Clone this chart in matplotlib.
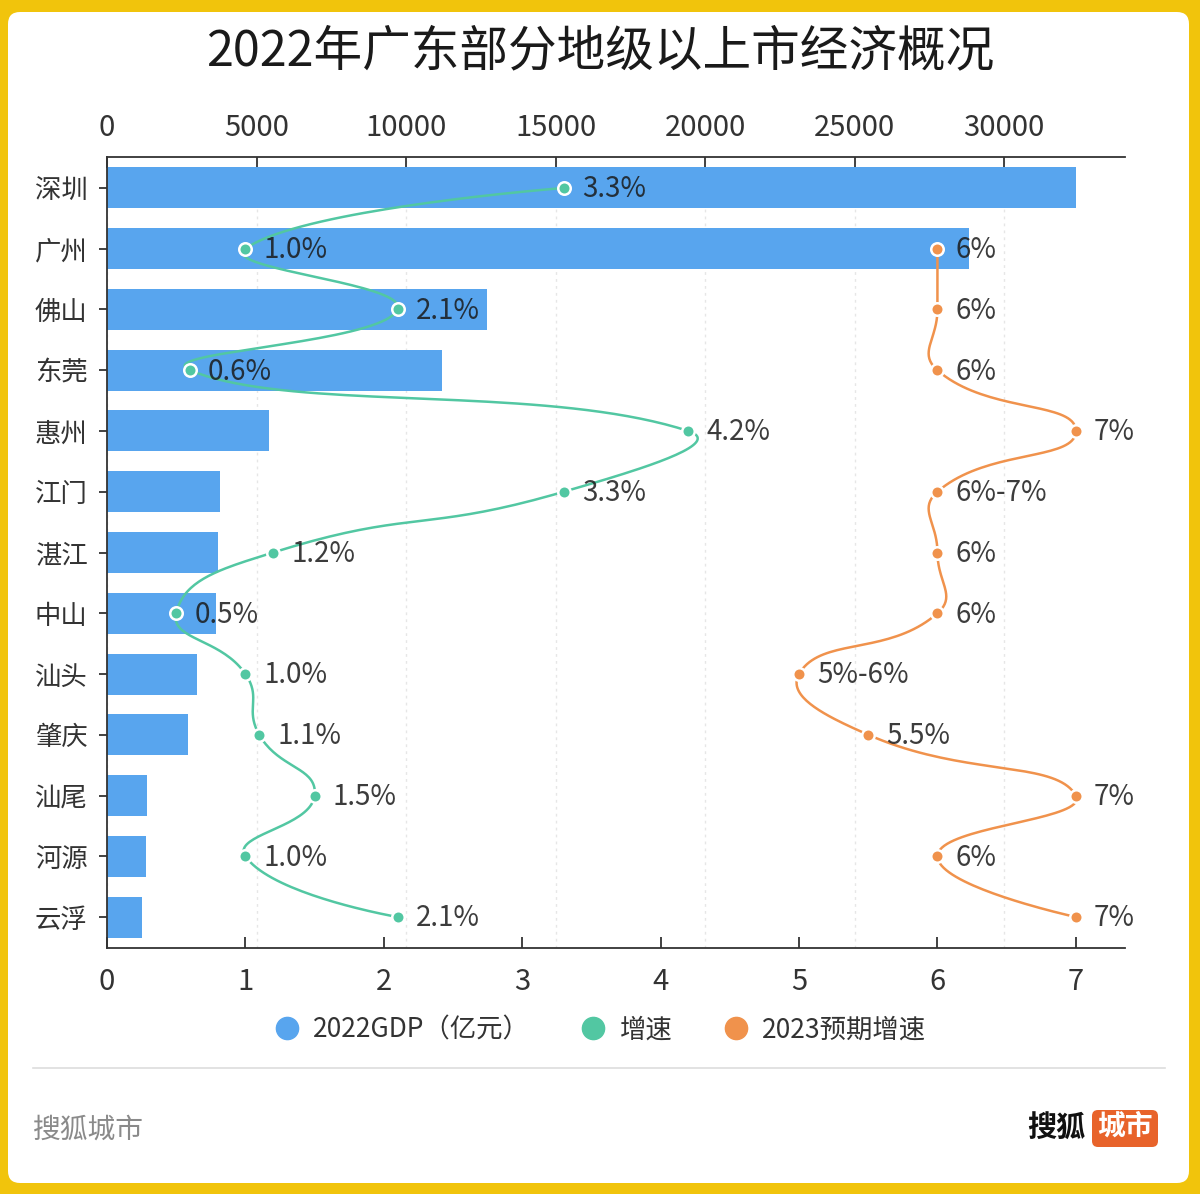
import numpy as np
import matplotlib
matplotlib.use("Agg")
import matplotlib.pyplot as plt
from matplotlib.lines import Line2D
from matplotlib.patches import FancyBboxPatch

plt.rcParams['font.family'] = ['Noto Sans CJK SC', 'DejaVu Sans']

cities = ['深圳', '广州', '佛山', '东莞', '惠州', '江门', '湛江',
          '中山', '汕头', '肇庆', '汕尾', '河源', '云浮']
gdp = [32387.68, 28839.0, 12698.4, 11200.3, 5401.2, 3773.4, 3712.6,
       3631.3, 3017.4, 2705.1, 1322.0, 1294.0, 1162.0]
growth = [3.3, 1.0, 2.1, 0.6, 4.2, 3.3, 1.2, 0.5, 1.0, 1.1, 1.5, 1.0, 2.1]
growth_labels = ['3.3%', '1.0%', '2.1%', '0.6%', '4.2%', '3.3%', '1.2%',
                 '0.5%', '1.0%', '1.1%', '1.5%', '1.0%', '2.1%']
# 2023 expected growth (深圳 has none)
expect = [None, 6, 6, 6, 7, 6, 6, 6, 5, 5.5, 7, 6, 7]
expect_labels = [None, '6%', '6%', '6%', '7%', '6%-7%', '6%', '6%',
                 '5%-6%', '5.5%', '7%', '6%', '7%']
gdp_ticks = [0, 5000, 10000, 15000, 20000, 25000, 30000]
rate_ticks = [0, 1, 2, 3, 4, 5, 6, 7]

BLUE = '#58a5ee'
GREEN = '#52c7a2'
ORANGE = '#f0924c'
YELLOW = '#f1c40c'
TXT = '#333333'


def smooth_curve(ax, xs, ys, smooth=0.5, n=40):
    """bezier smoothing in screen space, like echarts smooth lines"""
    pts = ax.transData.transform(np.column_stack([xs, ys]))
    cps = []
    for i in range(len(pts)):
        p = pts[i]
        if i == 0 or i == len(pts) - 1:
            cps.append((p, p))
            continue
        prev, nxt = pts[i - 1], pts[i + 1]
        v = (nxt - prev) * smooth
        d0 = np.hypot(*(p - prev))
        d1 = np.hypot(*(nxt - p))
        cps.append((p - v * d0 / (d0 + d1), p + v * d1 / (d0 + d1)))
    out = [pts[0]]
    t = np.linspace(0, 1, n)[1:, None]
    for i in range(len(pts) - 1):
        p0, c0, c1, p1 = pts[i], cps[i][1], cps[i + 1][0], pts[i + 1]
        seg = (1 - t) ** 3 * p0 + 3 * (1 - t) ** 2 * t * c0 + 3 * (1 - t) * t ** 2 * c1 + t ** 3 * p1
        out.extend(seg)
    return ax.transData.inverted().transform(np.array(out))


fig = plt.figure(figsize=(12, 11.94), dpi=100)
fig.patch.set_facecolor(YELLOW)
card = FancyBboxPatch((0.08, 0.11), 11.81, 11.71, boxstyle='round,pad=0,rounding_size=0.12',
                      transform=fig.dpi_scale_trans, facecolor='white', edgecolor='none', zorder=-1)
fig.add_artist(card)

fig.text(0.5, 1 - 52 / 1194, '2022年广东部分地级以上市经济概况', ha='center', va='center',
         fontsize=35, color='#1a1a1a')

ax = fig.add_axes([107 / 1200, 1 - 948 / 1194, 1018 / 1200, 791 / 1194])
ax.set_facecolor('none')
y = np.arange(len(cities))
ax.barh(y, gdp, height=0.675, color=BLUE, zorder=2)
ax.set_xlim(0, 34040)
ax.set_ylim(len(cities) - 0.49, -0.51)
ax.set_yticks(y)
ax.set_yticklabels(cities, fontsize=19, color=TXT)
ax.grid(axis='x', color='#e6e6e6', linestyle=(0, (2, 3)), linewidth=1, zorder=0)

ax2 = ax.twiny()
# twiny moves the original ticks to the bottom, so put them back on top
ax.xaxis.set_ticks_position('top')
ax.xaxis.set_label_position('top')
ax.set_xticks(gdp_ticks)
ax.set_xticklabels([str(v) for v in gdp_ticks], fontsize=21, color=TXT)
ax.tick_params(axis='x', direction='in', length=8, width=1.3, color=TXT, pad=10)
ax.tick_params(axis='y', direction='out', length=6, width=1.3, color=TXT, pad=8)
for s in ['right', 'bottom']:
    ax.spines[s].set_visible(False)
for s in ['top', 'left']:
    ax.spines[s].set_color(TXT)
    ax.spines[s].set_linewidth(1.3)

ax2.set_facecolor('none')
ax2.set_xlim(0, 7.355)
ax2.xaxis.set_ticks_position('bottom')
ax2.xaxis.set_label_position('bottom')
ax2.set_xticks(rate_ticks)
ax2.set_xticklabels([str(v) for v in rate_ticks], fontsize=21, color=TXT)
ax2.tick_params(axis='x', direction='in', length=8, width=1.3, color=TXT, pad=14)
for s in ['top', 'left', 'right']:
    ax2.spines[s].set_visible(False)
ax2.spines['bottom'].set_color(TXT)
ax2.spines['bottom'].set_linewidth(1.3)

# growth line
curve = smooth_curve(ax2, growth, y)
ax2.plot(curve[:, 0], curve[:, 1], color=GREEN, lw=1.8, zorder=3)
ax2.plot(growth, y, 'o', ms=9, mfc=GREEN, mec='white', mew=1.8, zorder=4)
for gx, gy, lbl in zip(growth, y, growth_labels):
    ax2.annotate(lbl, (gx, gy), xytext=(13, -1), textcoords='offset points',
                 ha='left', va='center', fontsize=20, color='#1a1a1a', alpha=0.85, zorder=5)

# 2023 expected line
ex_y = [yy for yy, e in zip(y, expect) if e is not None]
ex_x = [e for e in expect if e is not None]
curve = smooth_curve(ax2, ex_x, ex_y)
ax2.plot(curve[:, 0], curve[:, 1], color=ORANGE, lw=1.8, zorder=3)
ax2.plot(ex_x, ex_y, 'o', ms=9, mfc=ORANGE, mec='white', mew=1.8, zorder=4)
for ex, ey, lbl in zip(expect, y, expect_labels):
    if ex is None:
        continue
    ax2.annotate(lbl, (ex, ey), xytext=(13, -1), textcoords='offset points',
                 ha='left', va='center', fontsize=20, color='#1a1a1a', alpha=0.85, zorder=5)

handles = [Line2D([], [], marker='o', ls='none', ms=16, color=c) for c in (BLUE, GREEN, ORANGE)]
fig.legend(handles, ['2022GDP（亿元）', '增速', '2023预期增速'], loc='center',
           bbox_to_anchor=(0.5, 1 - 1030 / 1194), ncol=3, frameon=False, fontsize=19,
           handlelength=1.0, handletextpad=0.5, columnspacing=1.9, labelcolor=TXT)

fig.add_artist(Line2D([33 / 1200, 1165 / 1200], [1 - 1068 / 1194] * 2, color='#dddddd', lw=1.2))

fig.text(33 / 1200, 1 - 1130 / 1194, '搜狐城市', ha='left', va='center', fontsize=20, color='#8a8a8a')
fig.text(1085 / 1200, 1 - 1127 / 1194, '搜狐', ha='right', va='center', fontsize=21,
         fontweight='bold', color='#111111')
logo = FancyBboxPatch((10.92, 0.47), 0.66, 0.37, boxstyle='round,pad=0,rounding_size=0.06',
                      transform=fig.dpi_scale_trans, facecolor='#e8632a', edgecolor='none')
fig.add_artist(logo)
fig.text(1125 / 1200, 1 - 1127 / 1194, '城市', ha='center', va='center', fontsize=20,
         fontweight='bold', color='white')

fig.savefig('out.png', dpi=100, facecolor=fig.get_facecolor())
